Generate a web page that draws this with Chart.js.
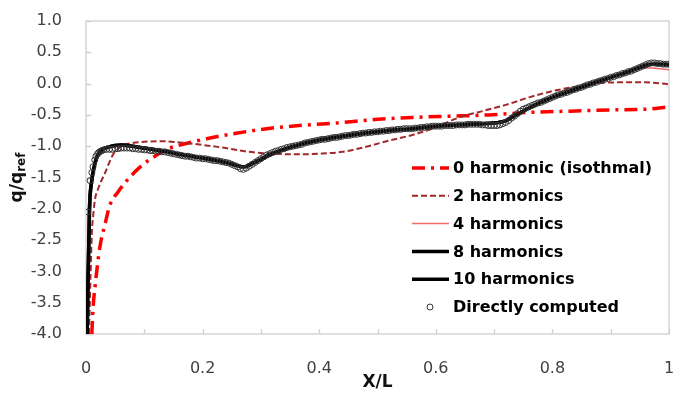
<!DOCTYPE html>
<html lang="en">
<head>
<meta charset="UTF-8">
<title>q/qref along X/L</title>
<script src="https://cdn.jsdelivr.net/npm/chart.js"></script>
<style>
  html, body { margin: 0; padding: 0; background: #fff; }
  #wrap { width: 676px; height: 393px; }
</style>
</head>
<body>
<div id="wrap"><canvas id="fluxChart" width="676" height="393"></canvas></div>
<script>
// series labels
const seriesNames = ["0 harmonic (isothmal)", "2 harmonics", "4 harmonics", "8 harmonics", "10 harmonics", "Directly computed"];

// 0 harmonic (isothermal wall)
const zeroX = [0.010, 0.012, 0.016, 0.019, 0.024, 0.033, 0.041, 0.055, 0.070, 0.093, 0.120, 0.144, 0.175, 0.207, 0.260, 0.310, 0.380, 0.430, 0.500, 0.560, 0.630, 0.690, 0.760, 0.830, 0.900, 0.960, 1.000];
const zeroY = [-4.00, -3.60, -3.20, -2.95, -2.60, -2.23, -1.94, -1.73, -1.55, -1.33, -1.15, -1.03, -0.95, -0.88, -0.79, -0.72, -0.66, -0.63, -0.57, -0.54, -0.52, -0.50, -0.46, -0.44, -0.42, -0.41, -0.37];

// 2 harmonics
const twoX = [0.005, 0.008, 0.010, 0.013, 0.016, 0.020, 0.025, 0.033, 0.040, 0.046, 0.055, 0.064, 0.080, 0.100, 0.127, 0.160, 0.200, 0.240, 0.280, 0.320, 0.360, 0.400, 0.440, 0.480, 0.520, 0.560, 0.600, 0.640, 0.680, 0.720, 0.760, 0.800, 0.840, 0.880, 0.920, 0.960, 1.000];
const twoY = [-4.00, -3.00, -2.40, -2.05, -1.82, -1.70, -1.58, -1.42, -1.26, -1.14, -1.04, -0.98, -0.95, -0.93, -0.92, -0.94, -0.98, -1.03, -1.09, -1.12, -1.13, -1.12, -1.09, -1.01, -0.91, -0.82, -0.70, -0.54, -0.44, -0.34, -0.22, -0.12, -0.05, 0.01, 0.02, 0.02, -0.01];

// 4, 8 and 10 harmonics share the same abscissae
const harmX = [0.002, 0.003, 0.006, 0.010, 0.013, 0.016, 0.020, 0.025, 0.030, 0.040, 0.050, 0.060, 0.070, 0.080, 0.100, 0.120, 0.140, 0.160, 0.180, 0.200, 0.220, 0.240, 0.260, 0.270, 0.280, 0.300, 0.320, 0.340, 0.360, 0.380, 0.400, 0.440, 0.480, 0.520, 0.560, 0.600, 0.640, 0.680, 0.700, 0.720, 0.740, 0.760, 0.780, 0.800, 0.840, 0.880, 0.920, 0.960, 0.970, 0.980, 1.000];
const fourY = [-4.00, -3.40, -2.05, -1.58, -1.40, -1.27, -1.16, -1.09, -1.05, -1.01, -0.99, -0.98, -0.99, -1.01, -1.04, -1.07, -1.10, -1.13, -1.16, -1.19, -1.22, -1.26, -1.30, -1.32, -1.29, -1.20, -1.12, -1.05, -0.99, -0.94, -0.90, -0.84, -0.79, -0.75, -0.72, -0.68, -0.66, -0.64, -0.63, -0.60, -0.50, -0.40, -0.31, -0.23, -0.10, 0.03, 0.14, 0.25, 0.25, 0.24, 0.22];
const eightY = [-4.00, -3.40, -2.00, -1.55, -1.38, -1.25, -1.15, -1.08, -1.04, -1.01, -0.99, -0.98, -0.99, -1.00, -1.03, -1.06, -1.09, -1.13, -1.16, -1.19, -1.22, -1.26, -1.31, -1.33, -1.30, -1.21, -1.12, -1.05, -0.99, -0.94, -0.90, -0.84, -0.79, -0.75, -0.72, -0.68, -0.66, -0.64, -0.63, -0.59, -0.49, -0.39, -0.30, -0.22, -0.09, 0.04, 0.16, 0.29, 0.31, 0.31, 0.30];
const tenY = [-4.00, -3.40, -2.00, -1.54, -1.38, -1.25, -1.15, -1.08, -1.04, -1.01, -0.99, -0.98, -0.99, -1.00, -1.03, -1.06, -1.09, -1.13, -1.16, -1.19, -1.22, -1.26, -1.31, -1.33, -1.30, -1.21, -1.12, -1.05, -0.99, -0.94, -0.90, -0.84, -0.79, -0.75, -0.72, -0.68, -0.66, -0.64, -0.63, -0.59, -0.49, -0.39, -0.30, -0.22, -0.09, 0.04, 0.16, 0.29, 0.31, 0.31, 0.30];

// directly computed points
const directX = [0.003, 0.007, 0.010, 0.012, 0.015, 0.017, 0.020, 0.022, 0.025, 0.027,
  0.030, 0.035, 0.040, 0.045, 0.050, 0.055, 0.060, 0.065, 0.070, 0.075,
  0.080, 0.085, 0.090, 0.095, 0.100, 0.105, 0.110, 0.115, 0.120, 0.125,
  0.130, 0.135, 0.140, 0.145, 0.150, 0.155, 0.160, 0.165, 0.170, 0.175,
  0.180, 0.185, 0.190, 0.195, 0.200, 0.205, 0.210, 0.215, 0.220, 0.225,
  0.230, 0.235, 0.240, 0.245, 0.250, 0.255, 0.260, 0.265, 0.270, 0.275,
  0.280, 0.285, 0.290, 0.295, 0.300, 0.305, 0.310, 0.315, 0.320, 0.325,
  0.330, 0.335, 0.340, 0.345, 0.350, 0.355, 0.360, 0.365, 0.370, 0.375,
  0.380, 0.385, 0.390, 0.395, 0.400, 0.405, 0.410, 0.415, 0.420, 0.425,
  0.430, 0.435, 0.440, 0.445, 0.450, 0.455, 0.460, 0.465, 0.470, 0.475,
  0.480, 0.485, 0.490, 0.495, 0.500, 0.505, 0.510, 0.515, 0.520, 0.525,
  0.530, 0.535, 0.540, 0.545, 0.550, 0.555, 0.560, 0.565, 0.570, 0.575,
  0.580, 0.585, 0.590, 0.595, 0.600, 0.605, 0.610, 0.615, 0.620, 0.625,
  0.630, 0.635, 0.640, 0.645, 0.650, 0.655, 0.660, 0.665, 0.670, 0.675,
  0.680, 0.685, 0.690, 0.695, 0.700, 0.705, 0.710, 0.715, 0.720, 0.725,
  0.730, 0.735, 0.740, 0.745, 0.750, 0.755, 0.760, 0.765, 0.770, 0.775,
  0.780, 0.785, 0.790, 0.795, 0.800, 0.805, 0.810, 0.815, 0.820, 0.825,
  0.830, 0.835, 0.840, 0.845, 0.850, 0.855, 0.860, 0.865, 0.870, 0.875,
  0.880, 0.885, 0.890, 0.895, 0.900, 0.905, 0.910, 0.915, 0.920, 0.925,
  0.930, 0.935, 0.940, 0.945, 0.950, 0.955, 0.960, 0.965, 0.970, 0.975,
  0.980, 0.985, 0.990, 0.995, 1.000];
const directY = [-2.05, -1.55, -1.42, -1.33, -1.22, -1.16, -1.12, -1.10, -1.08, -1.07,
  -1.06, -1.05, -1.05, -1.05, -1.04, -1.04, -1.03, -1.03, -1.03, -1.03,
  -1.04, -1.04, -1.05, -1.05, -1.06, -1.06, -1.07, -1.07, -1.08, -1.08,
  -1.09, -1.09, -1.10, -1.11, -1.12, -1.13, -1.14, -1.15, -1.16, -1.16,
  -1.17, -1.18, -1.19, -1.19, -1.20, -1.20, -1.21, -1.22, -1.23, -1.23,
  -1.24, -1.25, -1.26, -1.27, -1.29, -1.31, -1.33, -1.36, -1.37, -1.35,
  -1.32, -1.29, -1.26, -1.23, -1.20, -1.17, -1.14, -1.12, -1.10, -1.08,
  -1.07, -1.05, -1.04, -1.02, -1.01, -1.00, -0.99, -0.98, -0.97, -0.95,
  -0.94, -0.93, -0.92, -0.91, -0.90, -0.89, -0.89, -0.88, -0.87, -0.86,
  -0.86, -0.85, -0.84, -0.83, -0.83, -0.82, -0.81, -0.81, -0.80, -0.79,
  -0.79, -0.78, -0.78, -0.77, -0.77, -0.76, -0.76, -0.75, -0.75, -0.74,
  -0.74, -0.73, -0.73, -0.72, -0.72, -0.72, -0.72, -0.71, -0.71, -0.70,
  -0.70, -0.69, -0.69, -0.68, -0.68, -0.68, -0.68, -0.67, -0.67, -0.67,
  -0.67, -0.66, -0.66, -0.66, -0.66, -0.65, -0.65, -0.65, -0.65, -0.65,
  -0.66, -0.66, -0.67, -0.67, -0.67, -0.67, -0.66, -0.64, -0.62, -0.59,
  -0.55, -0.52, -0.48, -0.44, -0.41, -0.39, -0.37, -0.35, -0.33, -0.31,
  -0.30, -0.28, -0.26, -0.24, -0.22, -0.20, -0.18, -0.17, -0.15, -0.14,
  -0.12, -0.10, -0.09, -0.07, -0.06, -0.04, -0.02, -0.01, 0.01, 0.02,
  0.04, 0.05, 0.07, 0.08, 0.10, 0.11, 0.13, 0.14, 0.16, 0.17,
  0.19, 0.20, 0.22, 0.24, 0.26, 0.28, 0.30, 0.32, 0.33, 0.33,
  0.32, 0.32, 0.31, 0.31, 0.31];

// axis ranges
const xMin = 0, xMax = 1, xStep = 0.1;
const yMin = -4, yMax = 1, yStep = 0.5;

const pts = (xs, ys) => xs.map((x, i) => ({ x: x, y: ys[i] }));

const FONT = "'DejaVu Sans', sans-serif";

// frame, inner tick marks, axis titles and legend
const decorations = {
  id: "decorations",
  beforeDatasetsDraw(chart) {
    const { ctx, chartArea: a, scales } = chart;
    ctx.save();
    ctx.strokeStyle = "#d0d0d0";
    ctx.lineWidth = 1.3;
    ctx.strokeRect(a.left, a.top, a.right - a.left, a.bottom - a.top);
    ctx.beginPath();
    scales.y.ticks.forEach(t => {
      const py = Math.round(scales.y.getPixelForValue(t.value)) + 0.5;
      ctx.moveTo(a.left, py);
      ctx.lineTo(a.left + 5, py);
    });
    scales.x.ticks.forEach(t => {
      const px = Math.round(scales.x.getPixelForValue(t.value)) + 0.5;
      ctx.moveTo(px, a.bottom);
      ctx.lineTo(px, a.bottom - 5);
    });
    ctx.stroke();
    ctx.restore();
  },
  afterDraw(chart) {
    const { ctx, chartArea: a } = chart;
    ctx.save();
    ctx.fillStyle = "#111";

    // x title
    ctx.font = "bold 17px " + FONT;
    ctx.textAlign = "center";
    ctx.textBaseline = "middle";
    ctx.fillText("X/L", (a.left + a.right) / 2, 383);

    // y title with subscript
    ctx.translate(18, (a.top + a.bottom) / 2);
    ctx.rotate(-Math.PI / 2);
    ctx.textAlign = "left";
    ctx.textBaseline = "middle";
    const main = "q/q", sub = "ref";
    ctx.font = "bold 17px " + FONT;
    const wMain = ctx.measureText(main).width;
    ctx.font = "bold 12px " + FONT;
    const wSub = ctx.measureText(sub).width;
    const x0 = -(wMain + wSub) / 2;
    ctx.font = "bold 17px " + FONT;
    ctx.fillText(main, x0, 0);
    ctx.font = "bold 12px " + FONT;
    ctx.fillText(sub, x0 + wMain, 4);
    ctx.restore();

    // legend
    ctx.save();
    ctx.font = "bold 16px " + FONT;
    ctx.textBaseline = "middle";
    ctx.textAlign = "left";
    chart.data.datasets.forEach((ds, i) => {
      const y = 168 + i * 27.8;
      if (ds.showLine) {
        ctx.strokeStyle = ds.borderColor;
        ctx.lineWidth = ds.borderWidth;
        ctx.setLineDash(ds.borderDash || []);
        ctx.beginPath();
        ctx.moveTo(412, y);
        ctx.lineTo(449, y);
        ctx.stroke();
        ctx.setLineDash([]);
      } else {
        ctx.strokeStyle = ds.pointBorderColor;
        ctx.lineWidth = ds.pointBorderWidth;
        ctx.beginPath();
        ctx.arc(430, y, ds.pointRadius, 0, Math.PI * 2);
        ctx.stroke();
      }
      ctx.fillStyle = "#000";
      ctx.fillText(ds.label, 453, y + 1);
    });
    ctx.restore();
  }
};

const lineSet = (label, data, color, width, dash, order) => ({
  label: label,
  data: data,
  showLine: true,
  borderColor: color,
  backgroundColor: color,
  borderWidth: width,
  borderDash: dash,
  pointRadius: 0,
  cubicInterpolationMode: "monotone",
  order: order
});

new Chart(document.getElementById("fluxChart"), {
  type: "scatter",
  data: {
    datasets: [
      lineSet(seriesNames[0], pts(zeroX, zeroY), "#ff0000", 3.5, [13, 6, 3, 6], 5),
      lineSet(seriesNames[1], pts(twoX, twoY), "#a3282b", 2, [6, 3], 4),
      lineSet(seriesNames[2], pts(harmX, fourY), "#f06a6a", 1.5, [], 3),
      lineSet(seriesNames[3], pts(harmX, eightY), "#000000", 3.5, [], 2),
      lineSet(seriesNames[4], pts(harmX, tenY), "#000000", 3.5, [], 1),
      {
        label: seriesNames[5],
        data: pts(directX, directY),
        showLine: false,
        pointRadius: 3,
        pointBorderWidth: 1,
        pointBorderColor: "#333333",
        pointBackgroundColor: "rgba(255,255,255,0)",
        order: 0
      }
    ]
  },
  options: {
    responsive: false,
    devicePixelRatio: 1,
    animation: false,
    layout: { padding: { left: 0, top: 21, right: 7, bottom: 0 } },
    plugins: {
      legend: { display: false },
      tooltip: { enabled: false }
    },
    scales: {
      x: {
        type: "linear",
        min: xMin,
        max: xMax,
        grid: { display: false },
        border: { display: false },
        ticks: {
          stepSize: xStep,
          autoSkip: false,
          maxRotation: 0,
          padding: 17,
          color: "#404040",
          font: { family: FONT, size: 16 },
          callback: (v, i) => {
            if (i % 2) return "";
            const r = Math.round(v * 10) / 10;
            return (r === 0 || r === 1) ? String(r) : r.toFixed(1);
          }
        },
        afterFit: s => { s.height = 59; s.paddingLeft = 0; s.paddingRight = 0; }
      },
      y: {
        min: yMin,
        max: yMax,
        grid: { display: false },
        border: { display: false },
        ticks: {
          stepSize: yStep,
          padding: 16,
          color: "#404040",
          font: { family: FONT, size: 16 },
          callback: v => (Math.round(v * 10) / 10 + 0).toFixed(1)
        },
        afterFit: s => { s.width = 86; s.paddingTop = 0; s.paddingBottom = 0; }
      }
    }
  },
  plugins: [decorations]
});
</script>
</body>
</html>
